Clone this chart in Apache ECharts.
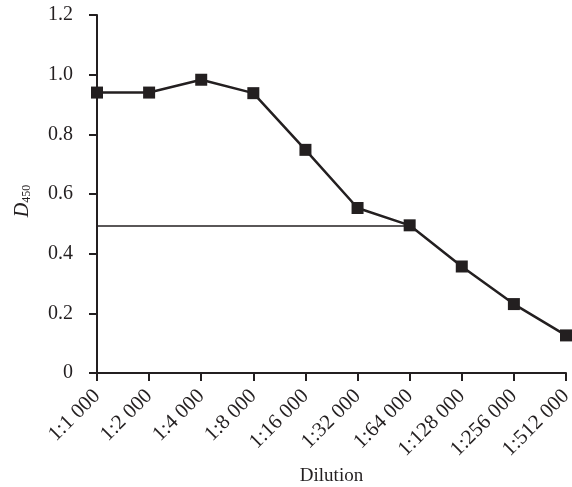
<!DOCTYPE html>
<html>
<head>
<meta charset="utf-8">
<script src="https://cdn.jsdelivr.net/npm/echarts@6/dist/echarts.min.js"></script>
<style>
html,body{margin:0;padding:0;background:#fff;}
#chart{width:572px;height:487px;}
</style>
</head>
<body>
<div id="chart"></div>
<script>
var categories = ['1:1 000','1:2 000','1:4 000','1:8 000','1:16 000','1:32 000','1:64 000','1:128 000','1:256 000','1:512 000'];
var values = [0.94, 0.94, 0.983, 0.938, 0.748, 0.553, 0.495, 0.357, 0.231, 0.126];
var yTickLabels = ['0','0.2','0.4','0.6','0.8','1.0','1.2'];
var refLevel = 0.495;
var refFrom = '1:1 000';
var refTo = '1:64 000';

var ink = '#231f20';
var font = 'Liberation Serif';

var chart = echarts.init(document.getElementById('chart'), null, {renderer: 'canvas'});
chart.setOption({
  animation: false,
  backgroundColor: '#fff',
  grid: {left: 97, right: 6, top: 15, bottom: 114, containLabel: false, outerBoundsMode: 'none'},
  xAxis: {
    type: 'category',
    data: categories,
    boundaryGap: false,
    name: 'Dilution',
    nameLocation: 'middle',
    nameGap: 94,
    nameMoveOverlap: false,
    nameTextStyle: {fontFamily: font, fontSize: 19, color: ink},
    axisLine: {lineStyle: {color: ink, width: 2}},
    axisTick: {alignWithLabel: true, length: 8, lineStyle: {color: ink, width: 2}},
    axisLabel: {rotate: 45, margin: 20, fontFamily: font, fontSize: 21, color: ink, interval: 0},
    splitLine: {show: false}
  },
  yAxis: {
    type: 'value',
    min: 0, max: 1.2, interval: 0.2,
    name: '{i|D}{s|450}',
    nameLocation: 'middle',
    nameGap: 64,
    nameMoveOverlap: false,
    nameTextStyle: {
      padding: [0, 14, 0, 0],
      rich: {
        i: {fontFamily: font, fontStyle: 'italic', fontSize: 20, color: ink, lineHeight: 20, verticalAlign: 'top', padding: [0,0,11,0]},
        s: {fontFamily: font, fontSize: 12, color: ink, lineHeight: 12, verticalAlign: 'bottom'}
      }
    },
    axisLine: {show: true, lineStyle: {color: ink, width: 2}},
    axisTick: {show: true, length: 8, lineStyle: {color: ink, width: 2}},
    axisLabel: {
      margin: 24, fontFamily: font, fontSize: 20, color: ink,
      formatter: function (v, i) { return yTickLabels[i]; }
    },
    splitLine: {show: false}
  },
  series: [{
    type: 'line',
    data: values,
    symbol: 'rect',
    symbolSize: 12,
    color: ink,
    itemStyle: {color: ink},
    lineStyle: {color: ink, width: 2.5},
    z: 3,
    markLine: {
      silent: true,
      symbol: ['none','none'],
      label: {show: false},
      lineStyle: {color: ink, width: 1.5, type: 'solid'},
      z: 2,
      data: [[{coord: [refFrom, refLevel]}, {coord: [refTo, refLevel]}]]
    }
  }]
});
</script>
</body>
</html>
